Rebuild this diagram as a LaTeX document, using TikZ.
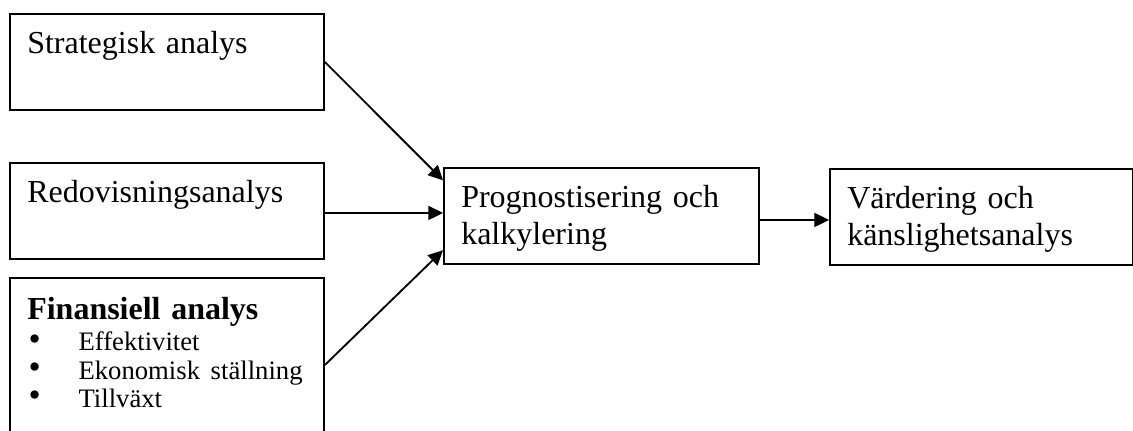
\documentclass[tikz,border=0pt]{standalone}
\usepackage{fontspec}
\setmainfont{Liberation Serif}
\usepackage{tikz}
\usetikzlibrary{arrows.meta,calc,positioning}

% bullet with a fixed hang for the list items
\newcommand{\punkt}{\hspace*{1pt}\makebox[37.5pt][l]{\fontsize{26}{0}\selectfont\raisebox{0.5pt}{\textbullet}}}

\begin{document}
\begin{tikzpicture}[x=0.75pt, y=-0.75pt,
    box/.style={rectangle, draw, line width=1.4pt, anchor=north west,
      inner xsep=13pt, inner ysep=0pt, align=left,
      text height=30pt, text depth=42pt,
      font=\fontsize{24}{27.75}\selectfont},
    pil/.style={line width=1.4pt, -{Triangle[length=11pt,width=10.5pt]}}]

    \useasboundingbox (0,0) rectangle (1133,430);

    % Nodes
    \node[box, text width=209.5pt] (strat) at (9,13) {Strategisk analys};
    \node[box, text width=209.5pt] (redov) at (9,162) {Redovisningsanalys};
    \node[box, text width=209.5pt, text height=31.5pt, text depth=90pt] (finans) at (9,277)
      {\textbf{Finansiell analys}\\[2pt]
       {\fontsize{20}{21.2}\selectfont
        \mbox{\punkt Effektivitet}\\
        \mbox{\punkt Ekonomisk ställning}\\
        \mbox{\punkt Tillväxt}\par}};
    \node[box, text width=210.25pt] (prog) at (443,167) {Prognostisering och\\ kalkylering};
    \node[box, text width=201.25pt] (vard) at (829,168) {Värdering och\\ känslighetsanalys};

    % Arrows
    \draw[pil] (strat.east) -- ([yshift=-10pt]prog.north west);
    \draw[pil] ([yshift=-1.5pt]redov.east) -- ([yshift=-1.5pt]redov.east -| prog.west);
    \draw[pil] ([yshift=-66pt]finans.north east) -- ([yshift=11pt]prog.south west);
    \draw[pil] ([yshift=-3pt]prog.east) -- ([yshift=-3pt]prog.east -| vard.west);
\end{tikzpicture}
\end{document}
